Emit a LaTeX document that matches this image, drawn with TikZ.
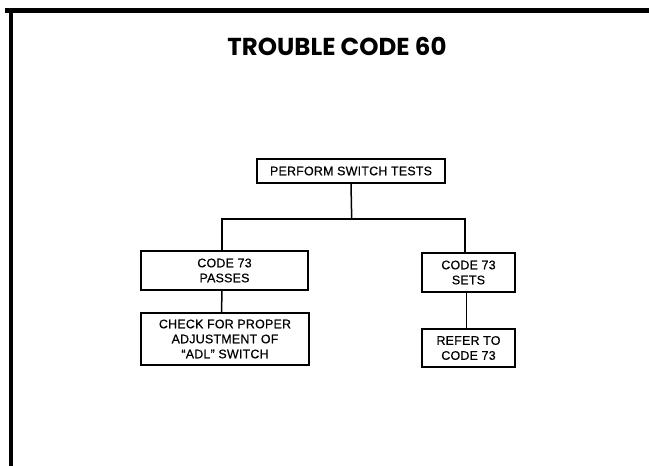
\documentclass[tikz,border=0pt]{standalone}
\usepackage{fontspec}
\newfontfamily\bodyfont{Liberation Sans}[LetterSpace=2,FakeBold=0.5]
\newfontfamily\titlefont{Poppins}
\begin{document}
\begin{tikzpicture}[x=1pt,y=-1pt,
  box/.style={draw=black,line width=1.2pt,align=center,inner sep=0pt,
    font=\bodyfont\fontsize{12.4}{15}\selectfont},
  conn/.style={line width=1.5pt},
  frame/.style={line width=4.5pt}]
\useasboundingbox (0,0) rectangle (649,466);
\fill[white] (0,0) rectangle (649,466);
\draw[frame] (5,10.5) -- (649,10.5);
\draw[frame] (11,8.5) -- (11,466);
\node[font=\titlefont\bfseries\fontsize{24.5}{28}\selectfont] (title) at (337,46) {TROUBLE CODE 60};
\node[box,minimum width=188pt,minimum height=24pt] (perform) at (351,171) {PERFORM SWITCH TESTS};
\node[box,minimum width=167pt,minimum height=39pt] (passes) at (224.5,270.5) {CODE 73\\PASSES};
\node[box,minimum width=93pt,minimum height=39pt] (sets) at (468.5,272.5) {CODE 73\\SETS};
\node[box,minimum width=168pt,minimum height=52pt] (check) at (225,339) {CHECK FOR PROPER\\ADJUSTMENT OF\\“ADL” SWITCH};
\node[box,minimum width=93pt,minimum height=38pt] (refer) at (468.5,348) {REFER TO\\CODE 73};
\coordinate (j) at (351.7,219);
\draw[conn] (perform.south) -- (j);
\draw[conn] (j) -| ([xshift=-2.5pt]passes.north);
\draw[conn] (j) -| ([xshift=-3.5pt]sets.north);
\draw[conn] ([xshift=-2.5pt]passes.south) -- ([xshift=-3.5pt]check.north);
\draw[conn] ([xshift=-2pt]sets.south) -- ([xshift=-2pt]refer.north);
\end{tikzpicture}
\end{document}
